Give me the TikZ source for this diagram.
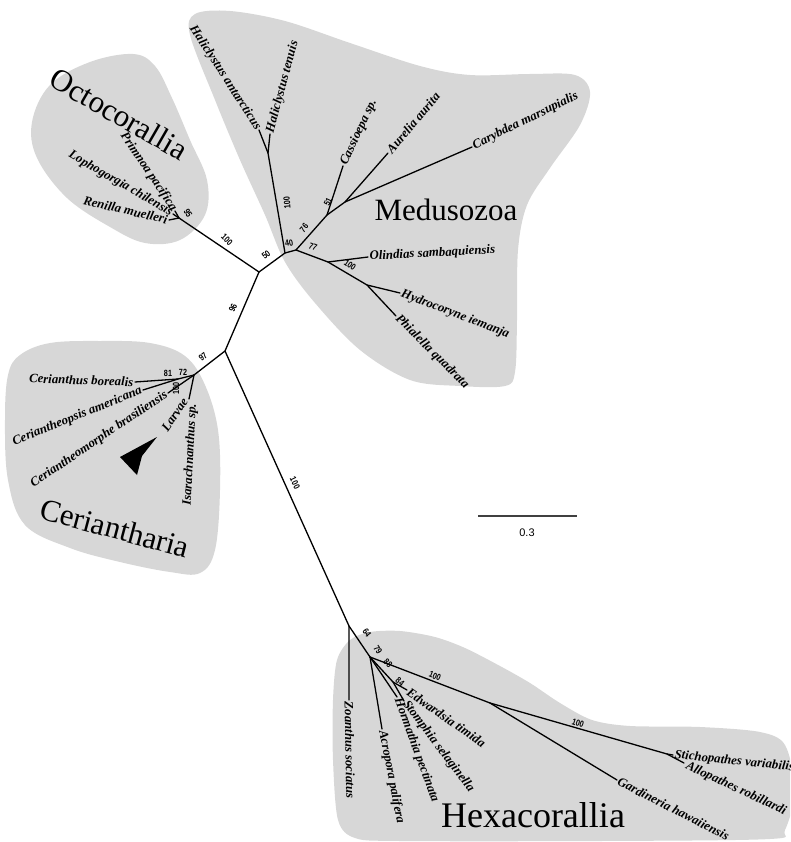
\documentclass[tikz,border=0pt]{standalone}
\usepackage{fontspec}
\setmainfont{Liberation Serif}
\newfontfamily\bsfont[FakeStretch=0.8]{Liberation Sans}
\newfontfamily\scalefont{Liberation Sans}
\definecolor{blobgray}{RGB}{215,215,215}
\begin{document}
\begin{tikzpicture}[x=1pt,y=-1pt,
  br/.style={line width=1.3pt, black, line cap=round},
  sp/.style={font=\fontsize{12.8}{12.8}\selectfont\bfseries\itshape, inner sep=1.5pt},
  bs/.style={font=\bsfont\bfseries\fontsize{9}{9}\selectfont, inner sep=0pt},
  clade/.style={font=\fontsize{31}{31}\selectfont, inner sep=0pt},
  blob/.style={fill=blobgray, draw=none}]
\useasboundingbox (0,0) rectangle (790,842);
\clip (0,0) rectangle (790,842);
% blobs
\fill[blob] plot[smooth cycle, tension=0.6] coordinates {(133,54) (155,66) (172,98) (190,140) (207,180) (205,215) (180,240) (145,243) (110,227) (67,198) (37,158) (32,122) (50,85) (90,62)};
\fill[blob] plot[smooth cycle, tension=0.55] coordinates {(195,14) (230,11) (285,21) (350,43) (420,66) (470,75) (530,74) (575,75) (590,92) (580,125) (550,168) (527,205) (518,250) (517,320) (515,372) (505,386) (460,386) (410,380) (360,350) (315,303) (285,262) (265,215) (240,160) (215,100) (190,35)};
\fill[blob] plot[smooth cycle, tension=0.6] coordinates {(20,355) (50,343) (100,341) (150,343) (185,356) (205,385) (218,430) (220,490) (215,550) (200,573) (170,572) (120,562) (70,548) (25,525) (8,480) (5,420) (8,375)};
\fill[blob] plot[smooth cycle, tension=0.5] coordinates {(337,660) (350,640) (370,632) (400,631) (435,637) (465,648) (500,666) (530,683) (560,703) (592,720) (630,726) (700,727) (760,732) (785,745) (795,790) (785,830) (770,839) (600,841) (400,841) (355,838) (338,820) (333,760) (333,700)};
% clade names
\node[clade, rotate=-30] (octo) at (119,114) {Octocorallia};
\node[clade] (medu) at (446,210) {Medusozoa};
\node[clade, rotate=-15] (ceri) at (115,528) {Ceriantharia};
\node[clade, font=\fontsize{36}{36}\selectfont] (hexa) at (533,815) {Hexacorallia};
% tree coordinates
\coordinate (A) at (259,272);
\coordinate (B1) at (285,253);
\coordinate (S) at (268,153);
\coordinate (tHant) at (259,130);
\coordinate (tHten) at (270,134);
\coordinate (B2) at (296,250);
\coordinate (M1) at (327,215);
\coordinate (tCass) at (343,166);
\coordinate (M2) at (345,202);
\coordinate (tAur) at (388,153);
\coordinate (tCary) at (472,147);
\coordinate (N) at (328,262);
\coordinate (tOlin) at (368,257);
\coordinate (P) at (367,285);
\coordinate (tHydr) at (400,293);
\coordinate (tPhia) at (396,316);
\coordinate (O) at (179,218);
\coordinate (tPrim) at (175,211);
\coordinate (tLoph) at (173,214);
\coordinate (tRen) at (169,220);
\coordinate (C) at (225,351);
\coordinate (N1) at (194,375);
\coordinate (N2) at (178,379);
\coordinate (tCbor) at (135,382);
\coordinate (tCame) at (143,390);
\coordinate (tCbra) at (168,393);
\coordinate (tLI) at (189,399);
\coordinate (D) at (349,626);
\coordinate (tZoan) at (349,700);
\coordinate (E) at (370,657);
\coordinate (tAcro) at (382,729);
\coordinate (tHorm) at (397,697);
\coordinate (H) at (393,682);
\coordinate (tStom) at (404,701);
\coordinate (tEdw) at (407,690);
\coordinate (K) at (490,703);
\coordinate (tGard) at (617,780);
\coordinate (L) at (667,754);
\coordinate (tStic) at (673,755);
\coordinate (tAllo) at (684,763);
% branches
\draw[br] (A) -- (B1) -- (B2);
\draw[br] (B1) -- (S) -- (tHant);
\draw[br] (S) -- (tHten);
\draw[br] (B2) -- (M1) -- (tCass);
\draw[br] (M1) -- (M2) -- (tAur);
\draw[br] (M2) -- (tCary);
\draw[br] (B2) -- (N) -- (tOlin);
\draw[br] (N) -- (P) -- (tHydr);
\draw[br] (P) -- (tPhia);
\draw[br] (A) -- (O) -- (tPrim);
\draw[br] (O) -- (tLoph);
\draw[br] (O) -- (tRen);
\draw[br] (A) -- (C) -- (N1) -- (N2) -- (tCbor);
\draw[br] (N2) -- (tCame);
\draw[br] (N1) -- (tCbra);
\draw[br] (N1) -- (tLI);
\draw[br] (C) -- (D) -- (tZoan);
\draw[br] (D) -- (E) -- (tAcro);
\draw[br] (E) -- (tHorm);
\draw[br] (E) -- (H) -- (tStom);
\draw[br] (H) -- (tEdw);
\draw[br] (E) -- (K) -- (tGard);
\draw[br] (K) -- (L) -- (tStic);
\draw[br] (L) -- (tAllo);
% species labels
\node[sp, rotate=-57, anchor=east] (lHant) at (tHant) {Haliclystus antarcticus};
\node[sp, rotate=75, anchor=west] (lHten) at (tHten) {Haliclystus tenuis};
\node[sp, rotate=65, anchor=west] (lCass) at (tCass) {Cassioepa sp.};
\node[sp, rotate=50, anchor=west] (lAur) at (tAur) {Aurelia aurita};
\node[sp, rotate=26, anchor=west] (lCary) at (tCary) {Carybdea marsupialis};
\node[sp, rotate=3, anchor=west] (lOlin) at (tOlin) {Olindias sambaquiensis};
\node[sp, rotate=-21, anchor=west] (lHydr) at (tHydr) {Hydrocoryne iemanja};
\node[sp, rotate=-45, anchor=west] (lPhia) at (tPhia) {Phialella quadrata};
\node[sp, rotate=-56, anchor=east] (lPrim) at (tPrim) {Primnoa pacifica};
\node[sp, rotate=-30, anchor=east] (lLoph) at (tLoph) {Lophogorgia chilensis};
\node[sp, rotate=-13, anchor=east] (lRen) at (tRen) {Renilla muelleri};
\node[sp, rotate=-2, anchor=east] (lCbor) at (tCbor) {Cerianthus borealis};
\node[sp, rotate=22, anchor=east] (lCame) at (tCame) {Ceriantheopsis americana};
\node[sp, rotate=34, anchor=east] (lCbra) at (tCbra) {Ceriantheomorphe brasiliensis};
\node[sp, rotate=56, anchor=east] (lLarv) at ([shift={(-3,-1)}]tLI) {Larvae};
\node[sp, rotate=87, anchor=east] (lIsar) at ([shift={(4,3)}]tLI) {Isarachnanthus sp.};
\node[sp, rotate=-89, anchor=west] (lZoan) at (tZoan) {Zoanthus sociatus};
\node[sp, rotate=-79, anchor=west] (lAcro) at (tAcro) {Acropora palifera};
\node[sp, rotate=-70, anchor=west] (lHorm) at (tHorm) {Hormathia pectinata};
\node[sp, rotate=-53, anchor=west] (lStom) at (tStom) {Stomphia selaginella};
\node[sp, rotate=-35, anchor=west] (lEdw) at (tEdw) {Edwardsia timida};
\node[sp, rotate=-27, anchor=west] (lGard) at (tGard) {Gardineria hawaiiensis};
\node[sp, rotate=-6, anchor=west] (lStic) at (tStic) {Stichopathes variabilis};
\node[sp, rotate=-25, anchor=west] (lAllo) at ([shift={(1,2)}]tAllo) {Allopathes robillardi};
% bootstrap values
\node[bs, rotate=-60] (b95) at (188,213) {95};
\node[bs, rotate=-45] (b100o) at (227,240) {100};
\node[bs, rotate=38] (b50) at (266,255) {50};
\node[bs, rotate=10] (b40) at (289,243) {40};
\node[bs, rotate=95] (b100h) at (287,203) {100};
\node[bs, rotate=50] (b76) at (304,228) {76};
\node[bs, rotate=65] (b51) at (328,202) {51};
\node[bs, rotate=-22] (b77) at (313,247) {77};
\node[bs, rotate=-35] (b100m) at (350,265) {100};
\node[bs, rotate=66] (b96) at (233,308) {96};
\node[bs, rotate=39] (b97) at (203,357) {97};
\node[bs] (b81) at (168,373) {81};
\node[bs] (b72) at (183,372) {72};
\node[bs, rotate=90] (b100c) at (176,388) {100};
\node[bs, rotate=-65] (b100l) at (295,483) {100};
\node[bs, rotate=-55] (b64) at (367,633) {64};
\node[bs, rotate=-55] (b79) at (378,650) {79};
\node[bs, rotate=-45] (b88) at (388,663) {88};
\node[bs, rotate=-40] (b84) at (400,682) {84};
\node[bs, rotate=-22] (b100e) at (435,676) {100};
\node[bs, rotate=-18] (b100a) at (578,723) {100};
% larvae arrowhead
\fill[black] (120,457) -- (157,437) -- (142,456) -- (137,475) -- cycle;
% scale bar
\coordinate (sb1) at (478,516);
\coordinate (sb2) at (577,516);
\draw[line width=1.2pt, black!75] (sb1) -- (sb2);
\node[font=\scalefont\fontsize{11}{11}\selectfont] (sbl) at (527,533) {0.3};
\end{tikzpicture}
\end{document}
